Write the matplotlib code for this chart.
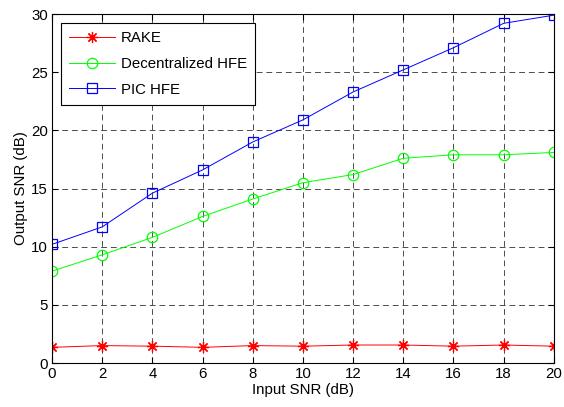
import matplotlib
matplotlib.use('Agg')
import matplotlib.pyplot as plt

# input SNR (dB)
snr_in = [0, 2, 4, 6, 8, 10, 12, 14, 16, 18, 20]

# output SNR (dB) per receiver
rake = [1.35, 1.5, 1.45, 1.35, 1.5, 1.45, 1.55, 1.55, 1.45, 1.55, 1.45]
dec_hfe = [7.9, 9.3, 10.8, 12.6, 14.1, 15.5, 16.2, 17.6, 17.9, 17.9, 18.1]
pic_hfe = [10.2, 11.7, 14.6, 16.6, 19.0, 20.9, 23.3, 25.2, 27.1, 29.2, 29.9]

x_ticks = [0, 2, 4, 6, 8, 10, 12, 14, 16, 18, 20]
y_ticks = [0, 5, 10, 15, 20, 25, 30]

plt.rcParams['font.family'] = ['Liberation Sans', 'DejaVu Sans']
plt.rcParams['font.size'] = 10.8

fig = plt.figure(figsize=(5.64, 4.07), dpi=100)
ax = fig.add_axes([0.0922, 0.108, 0.8898, 0.8576])

ax.plot(snr_in, rake, color='red', lw=0.7, marker=(8, 2, 0), ms=8,
        mec='red', mew=0.9, label='RAKE')
ax.plot(snr_in, dec_hfe, color='#00ff00', lw=0.7, marker='o', ms=7.5, mfc='none',
        mec='#00ff00', mew=0.9, label='Decentralized HFE')
ax.plot(snr_in, pic_hfe, color='blue', lw=0.7, marker='s', ms=6.5, mfc='none',
        mec='blue', mew=0.9, label='PIC HFE')

ax.set_xlim(0, 20)
ax.set_ylim(0, 30)
ax.set_xticks(x_ticks)
ax.set_yticks(y_ticks)
ax.tick_params(direction='in', length=4, width=0.8, pad=3, top=True, right=True)
ax.grid(True, color='black', linestyle=(0, (6, 4)), linewidth=0.7, alpha=0.7)
for s in ax.spines.values():
    s.set_linewidth(0.8)

ax.set_xlabel('Input SNR (dB)', labelpad=1)
ax.set_ylabel('Output SNR (dB)', labelpad=2)

leg = ax.legend(loc='upper left', bbox_to_anchor=(0.017, 0.974), fancybox=False,
                framealpha=1, edgecolor='black', handlelength=3.1,
                borderpad=0.55, labelspacing=0.78, handletextpad=0.35,
                borderaxespad=0)
leg.get_frame().set_linewidth(0.8)

fig.savefig('out.png', dpi=100)
